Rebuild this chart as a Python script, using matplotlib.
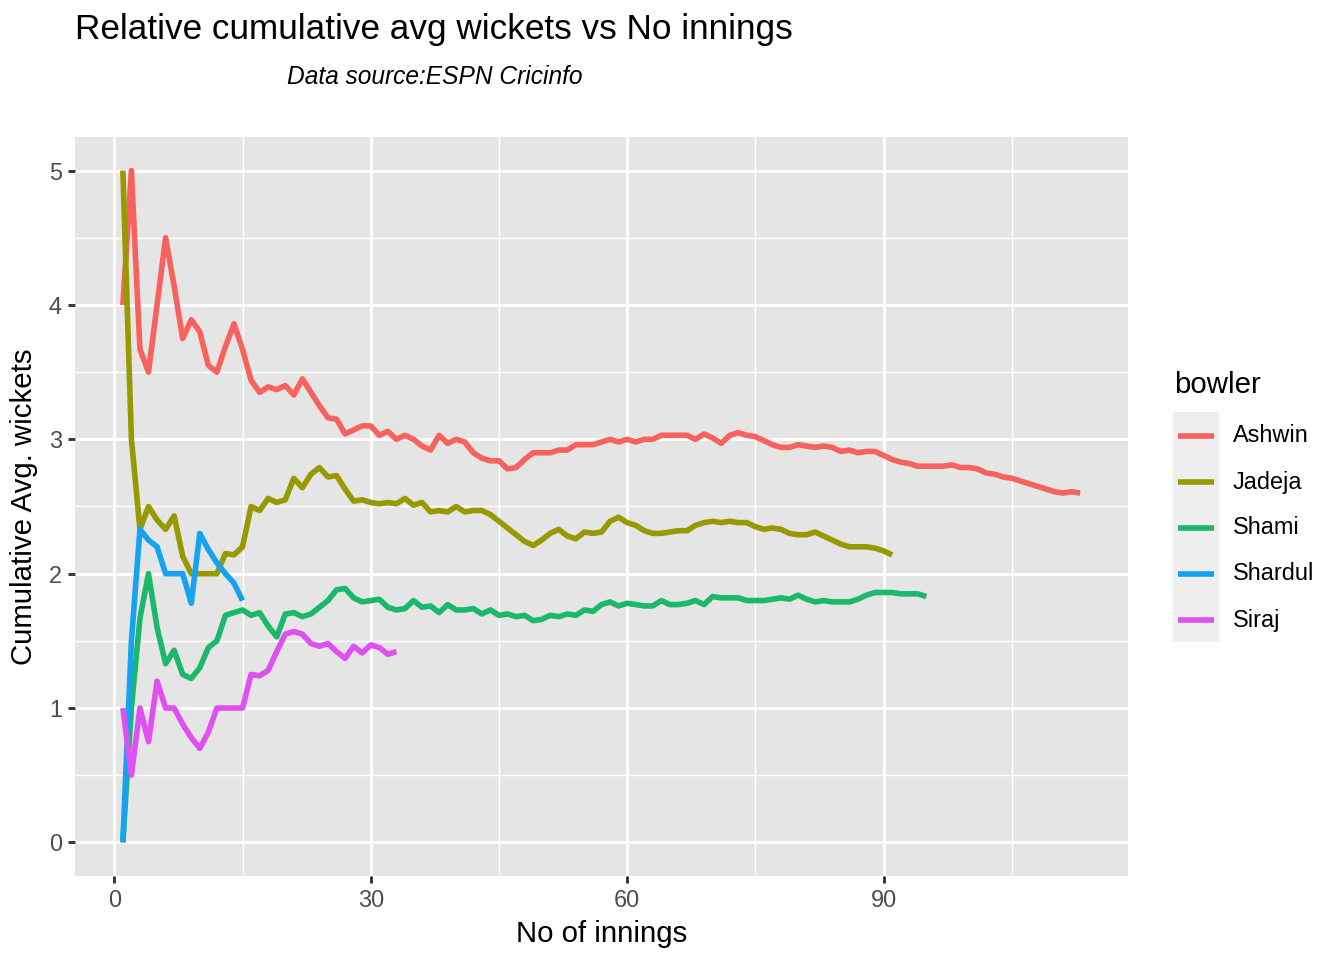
import numpy as np
import matplotlib
matplotlib.use('Agg')
import matplotlib.pyplot as plt
from matplotlib.lines import Line2D
from matplotlib.patches import Rectangle

# cumulative average wickets per innings
ashwin = [4.0, 5.0, 3.67, 3.5, 4.0, 4.5, 4.14, 3.75, 3.89, 3.8,
          3.55, 3.5, 3.69, 3.86, 3.67, 3.44, 3.35, 3.39, 3.37, 3.4,
          3.33, 3.45, 3.35, 3.25, 3.16, 3.15, 3.04, 3.07, 3.1, 3.1,
          3.03, 3.06, 3.0, 3.03, 3.0, 2.95, 2.92, 3.03, 2.97, 3.0,
          2.98, 2.9, 2.86, 2.84, 2.84, 2.78, 2.79, 2.85, 2.9, 2.9,
          2.9, 2.92, 2.92, 2.96, 2.96, 2.96, 2.98, 3.0, 2.98, 3.0,
          2.98, 3.0, 3.0, 3.03, 3.03, 3.03, 3.03, 3.0, 3.04, 3.01,
          2.97, 3.03, 3.05, 3.03, 3.02, 2.99, 2.96, 2.94, 2.94, 2.96,
          2.95, 2.94, 2.95, 2.94, 2.91, 2.92, 2.9, 2.91, 2.91, 2.88,
          2.85, 2.83, 2.82, 2.8, 2.8, 2.8, 2.8, 2.81, 2.79, 2.79,
          2.78, 2.75, 2.74, 2.72, 2.71, 2.69, 2.67, 2.65, 2.63, 2.61,
          2.6, 2.61, 2.6]
jadeja = [5.0, 3.0, 2.33, 2.5, 2.4, 2.33, 2.43, 2.13, 2.0, 2.0,
          2.0, 2.0, 2.15, 2.14, 2.2, 2.5, 2.47, 2.56, 2.53, 2.55,
          2.71, 2.64, 2.74, 2.79, 2.72, 2.73, 2.63, 2.54, 2.55, 2.53,
          2.52, 2.53, 2.52, 2.56, 2.51, 2.53, 2.46, 2.47, 2.46, 2.5,
          2.46, 2.47, 2.47, 2.44, 2.39, 2.34, 2.29, 2.24, 2.21, 2.25,
          2.3, 2.33, 2.28, 2.26, 2.31, 2.3, 2.31, 2.39, 2.42, 2.38,
          2.36, 2.32, 2.3, 2.3, 2.31, 2.32, 2.32, 2.36, 2.38, 2.39,
          2.38, 2.39, 2.38, 2.38, 2.35, 2.33, 2.34, 2.33, 2.3, 2.29,
          2.29, 2.31, 2.28, 2.25, 2.22, 2.2, 2.2, 2.2, 2.19, 2.17,
          2.14]
shami = [0.0, 1.0, 1.67, 2.0, 1.6, 1.33, 1.43, 1.25, 1.22, 1.3,
         1.45, 1.5, 1.69, 1.71, 1.73, 1.69, 1.71, 1.61, 1.53, 1.7,
         1.71, 1.68, 1.7, 1.75, 1.8, 1.88, 1.89, 1.82, 1.79, 1.8,
         1.81, 1.75, 1.73, 1.74, 1.8, 1.75, 1.76, 1.71, 1.77, 1.73,
         1.73, 1.74, 1.7, 1.73, 1.69, 1.7, 1.68, 1.69, 1.65, 1.66,
         1.69, 1.68, 1.7, 1.69, 1.73, 1.72, 1.77, 1.79, 1.76, 1.78,
         1.77, 1.76, 1.76, 1.8, 1.77, 1.77, 1.78, 1.8, 1.77, 1.83,
         1.82, 1.82, 1.82, 1.8, 1.8, 1.8, 1.81, 1.82, 1.81, 1.84,
         1.81, 1.79, 1.8, 1.79, 1.79, 1.79, 1.81, 1.84, 1.86, 1.86,
         1.86, 1.85, 1.85, 1.85, 1.83]
shardul = [0.0, 1.5, 2.33, 2.25, 2.2, 2.0, 2.0, 2.0, 1.78, 2.3,
           2.18, 2.08, 2.0, 1.93, 1.8]
siraj = [1.0, 0.5, 1.0, 0.75, 1.2, 1.0, 1.0, 0.88, 0.78, 0.7,
         0.82, 1.0, 1.0, 1.0, 1.0, 1.25, 1.24, 1.28, 1.42, 1.55,
         1.57, 1.55, 1.48, 1.46, 1.48, 1.42, 1.37, 1.46, 1.41, 1.47,
         1.45, 1.4, 1.42]

bowlers = ['Ashwin', 'Jadeja', 'Shami', 'Shardul', 'Siraj']
series = [ashwin, jadeja, shami, shardul, siraj]
colors = ['#F6625E', '#969900', '#1BB86C', '#16A2F0', '#DE50F0']

plt.rcParams['font.family'] = ['Liberation Sans', 'DejaVu Sans']

W, H = 1344, 960
fig = plt.figure(figsize=(7, 5), dpi=192)


def fx(px):
    return px / W


def fy(py):
    return 1 - py / H


ax = fig.add_axes([fx(75), fy(876), fx(1128) - fx(75), fy(137) - fy(876)])
ax.set_facecolor('#E5E5E5')
for s in ax.spines.values():
    s.set_visible(False)

lw = 2.1
for vals, c in zip(series, colors):
    n = np.arange(1, len(vals) + 1)
    ax.plot(n, vals, color=c, lw=lw, solid_joinstyle='round', solid_capstyle='butt', zorder=3)

ax.set_xlim(1 - 0.05 * 112, 113 + 0.05 * 112)
ax.set_ylim(-0.25, 5.25)
ax.set_xticks([0, 30, 60, 90])
ax.set_xticks([15, 45, 75, 105], minor=True)
ax.set_yticks([0, 1, 2, 3, 4, 5])
ax.set_yticks([0.5, 1.5, 2.5, 3.5, 4.5], minor=True)
ax.grid(which='major', color='white', lw=1.07)
ax.grid(which='minor', color='white', lw=0.53)
ax.set_axisbelow(True)
ax.tick_params(which='major', length=2.75, width=1.07, color='#333333',
               labelsize=8.8, labelcolor='#4D4D4D', pad=2.2)
ax.tick_params(which='minor', length=0)

ax.set_xlabel('No of innings', fontsize=11, labelpad=3)
ax.set_ylabel('Cumulative Avg. wickets', fontsize=11, labelpad=4)

fig.text(fx(75), fy(30), 'Relative cumulative avg wickets vs No innings',
         fontsize=13.2, ha='left', va='center')
fig.text(fx(287), fy(77), 'Data source:ESPN Cricinfo',
         fontsize=9.2, style='italic', ha='left', va='center')

# legend
fig.text(fx(1174), fy(385), 'bowler', fontsize=11, ha='left', va='center')
fig.patches.append(Rectangle((fx(1173), fy(642)), fx(1219) - fx(1173), fy(412) - fy(642),
                             transform=fig.transFigure, facecolor='#EFEFEF', edgecolor='none'))
for i, (name, c) in enumerate(zip(bowlers, colors)):
    yc = 436 + 46 * i
    fig.lines.append(Line2D([fx(1178), fx(1214)], [fy(yc), fy(yc)], transform=fig.transFigure,
                            color=c, lw=lw, solid_capstyle='butt'))
    fig.text(fx(1233), fy(yc), name, fontsize=8.8, ha='left', va='center')

fig.savefig('out.png', dpi=192)
